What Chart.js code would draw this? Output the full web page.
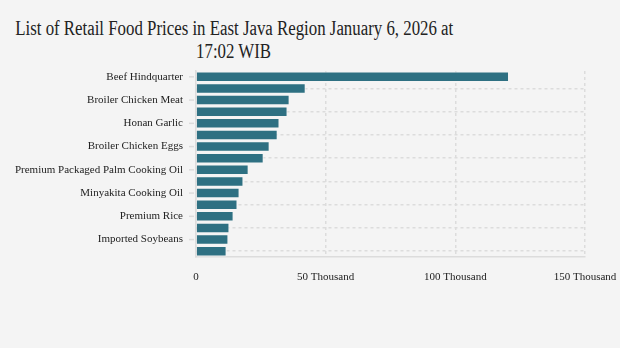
<!DOCTYPE html>
<html>
<head>
<meta charset="utf-8">
<script src="https://cdn.jsdelivr.net/npm/chart.js@4.4.1/dist/chart.umd.min.js"></script>
<style>
  html, body { margin: 0; padding: 0; background: #f4f4f4; }
  #wrap { position: relative; width: 620px; height: 348px; overflow: hidden; }
  #title {
    position: absolute; left: -166px; top: 17px; width: 800px;
    text-align: center; color: #222;
    font-family: "Liberation Serif", serif;
    font-size: 20px; line-height: 23px;
  }
  #title span { display: inline-block; white-space: nowrap; transform-origin: center; }
  canvas { position: absolute; left: 0; top: 0; }
</style>
</head>
<body>
<div id="wrap">
  <div id="title"><span>List of Retail Food Prices in East Java Region January 6, 2026 at</span><br><span>17:02 WIB</span></div>
  <canvas id="priceChart" width="620" height="348"></canvas>
</div>
<script>
// commodities, most expensive first (Rp per kg / liter)
const commodities = [
  'Beef Hindquarter', "Bird's Eye Chili", 'Broiler Chicken Meat', 'Shallots',
  'Honan Garlic', 'Curly Red Chili', 'Broiler Chicken Eggs', 'Big Red Chili',
  'Premium Packaged Palm Cooking Oil', 'Granulated Sugar', 'Minyakita Cooking Oil', 'Bulk Cooking Oil',
  'Premium Rice', 'Medium Rice', 'Imported Soybeans', 'Wheat Flour'
];
const prices = [
  120700, 42300, 36100, 35300,
  32200, 31500, 28400, 26100,
  20300, 18300, 16800, 16000,
  14500, 12900, 12500, 11800
];
const xTicks = [0, 50000, 100000, 150000];

const barColor = '#2e7082';
const gridColor = '#dcdcdc';
const labelFont = { family: '"Liberation Serif", "Times New Roman", serif', size: 11 };

// keep the title's first line at 438px wide
const titleSpans = document.querySelectorAll('#title span');
const squeeze = 438 / titleSpans[0].getBoundingClientRect().width;
titleSpans.forEach(s => { s.style.transform = `scaleX(${Math.min(1, squeeze)})`; });

// small tick marks at the visible category labels
const tickMarks = {
  id: 'tickMarks',
  afterDraw(chart) {
    const y = chart.scales.y;
    const ctx = chart.ctx;
    ctx.save();
    ctx.strokeStyle = gridColor;
    ctx.lineWidth = 1.5;
    y.ticks.forEach((t, i) => {
      const py = y.getPixelForTick(i);
      ctx.beginPath();
      ctx.moveTo(y.right - 7, py);
      ctx.lineTo(y.right - 2, py);
      ctx.stroke();
    });
    ctx.restore();
  }
};

new Chart(document.getElementById('priceChart'), {
  type: 'bar',
  data: {
    labels: commodities,
    datasets: [{
      data: prices,
      backgroundColor: barColor,
      borderColor: '#f4f4f4',
      borderWidth: 1,
      barPercentage: 0.95,
      categoryPercentage: 0.95
    }]
  },
  options: {
    indexAxis: 'y',
    responsive: false,
    animation: false,
    layout: { padding: { top: 71, right: 35, bottom: 61, left: 0 } },
    plugins: {
      legend: { display: false },
      tooltip: { enabled: false }
    },
    scales: {
      x: {
        min: 0,
        max: 150000,
        afterBuildTicks: s => { s.ticks = xTicks.map(v => ({ value: v })); },
        afterFit: s => { s.height = 30; s.paddingRight = 0; s.paddingLeft = 0; },
        ticks: {
          color: '#222',
          font: labelFont,
          padding: 14,
          callback: v => v === 0 ? '0' : (v / 1000) + ' Thousand'
        },
        grid: { color: gridColor, lineWidth: 1.5, drawTicks: false },
        border: { display: true, color: gridColor, width: 1.5, dash: [3, 3] }
      },
      y: {
        afterFit: s => { s.width = 196; },
        ticks: {
          color: '#222',
          font: labelFont,
          padding: 13,
          autoSkip: true
        },
        grid: { color: gridColor, lineWidth: 1.5, drawTicks: false },
        border: { display: true, color: gridColor, width: 1.5, dash: [3, 3] }
      }
    }
  },
  plugins: [tickMarks]
});
</script>
</body>
</html>
